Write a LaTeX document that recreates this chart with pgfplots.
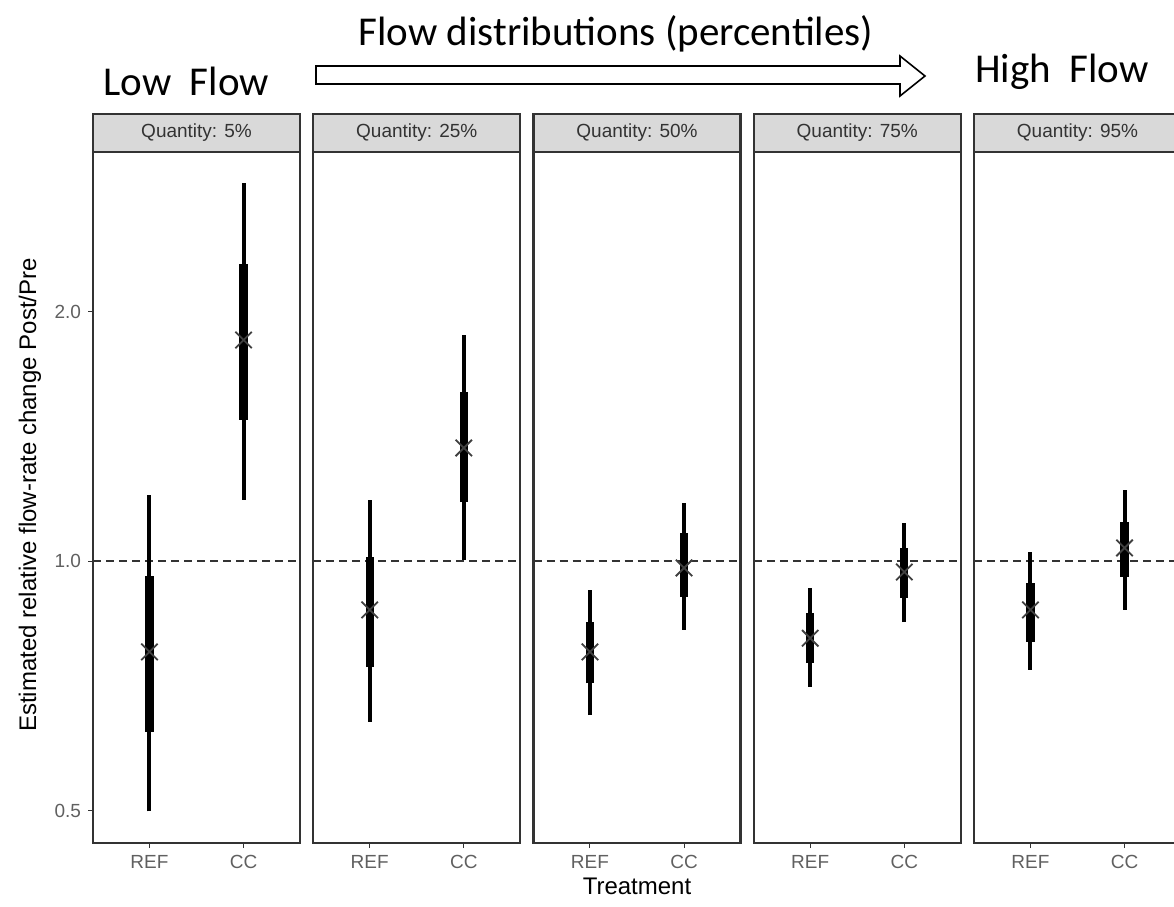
\documentclass[border=0pt]{standalone}
\usepackage{pgfplots}
\pgfplotsset{compat=1.18}
\usepackage{fontspec}
\setmainfont{Liberation Sans}
\newfontfamily\calibri{Carlito}
\definecolor{bordergray}{HTML}{333333}
\definecolor{stripgray}{HTML}{D9D9D9}
\definecolor{tickgray}{HTML}{606060}
\definecolor{markgray}{HTML}{404040}
\newcommand\interval[6]{%
  \addplot[black, line width=2pt, mark=none] coordinates {(#1,#2) (#1,#6)};
  \addplot[black, line width=4.2pt, mark=none] coordinates {(#1,#3) (#1,#5)};
  \addplot[only marks, mark=x, mark size=5.8pt, draw=markgray, mark options={line width=0.9pt}] coordinates {(#1,#4)};
}
\newcommand\refline{\addplot[bordergray, line width=1pt, dash pattern=on 4pt off 2.5pt, mark=none] coordinates {(0.4,1) (2.6,1)};}
\pgfplotsset{
  every axis/.append style={
  scale only axis, width=103.5pt, height=345.5pt, anchor=south west,
  ymin=0.4569, ymax=3.115, xmin=0.4, xmax=2.6,
  xtick={1,2}, xticklabels={REF,CC},
  tick align=outside, xtick pos=left, ytick pos=left, major tick length=2.5pt,
  axis line style={draw=bordergray, line width=1.05pt},
  major tick style={draw=bordergray, line width=0.5pt},
  tick label style={font=\fontsize{9.5}{11}\selectfont, text=tickgray},
}}
\begin{document}
\begin{tikzpicture}
\path[use as bounding box] (0,0) rectangle (587pt,453pt);
% Panel 1: 5%
\begin{axis}[ymode=log, at={(46.5pt,31.5pt)}, ytick={0.5,1,2}, yticklabels={0.5,1.0,2.0}, minor ytick={}]
\refline
\interval{1}{0.499}{0.622}{0.777}{0.959}{1.201}
\interval{2}{1.185}{1.480}{1.848}{2.282}{2.858}
\end{axis}
% Panel 2: 25%
\begin{axis}[ymode=log, at={(156.625pt,31.5pt)}, ytick=\empty, minor ytick={}]
\refline
\interval{1}{0.640}{0.745}{0.873}{1.011}{1.185}
\interval{2}{1.003}{1.178}{1.369}{1.599}{1.874}
\end{axis}
% Panel 3: 50%
\begin{axis}[ymode=log, at={(266.75pt,31.5pt)}, ytick=\empty, minor ytick={}]
\refline
\interval{1}{0.652}{0.712}{0.777}{0.844}{0.923}
\interval{2}{0.826}{0.905}{0.981}{1.081}{1.175}
\end{axis}
% Panel 4: 75%
\begin{axis}[ymode=log, at={(376.875pt,31.5pt)}, ytick=\empty, minor ytick={}]
\refline
\interval{1}{0.705}{0.753}{0.807}{0.866}{0.928}
\interval{2}{0.844}{0.902}{0.970}{1.037}{1.111}
\end{axis}
% Panel 5: 95%
\begin{axis}[ymode=log, at={(487pt,31.5pt)}, ytick=\empty, minor ytick={}]
\refline
\interval{1}{0.739}{0.799}{0.873}{0.941}{1.025}
\interval{2}{0.873}{0.957}{1.037}{1.114}{1.218}
\end{axis}
% strips
\foreach \xx/\lab in {46.5/5, 156.625/25, 266.75/50, 376.875/75, 487/95}{
  \draw[draw=bordergray, fill=stripgray, line width=1.05pt] (\xx pt,377pt) rectangle ++(103.5pt,19pt);
  \node[font=\fontsize{9.5}{11}\selectfont, text=bordergray] at (\xx pt+51.75pt,386.5pt) {Quantity: \lab\%};
}
% axis titles
\node[rotate=90, font=\fontsize{12}{14}\selectfont] at (15pt,205.5pt) {Estimated relative flow-rate change Post/Pre};
\node[anchor=base, font=\fontsize{12}{14}\selectfont] at (318.5pt,5.5pt) {Treatment};
% header
\node[anchor=base, inner sep=0pt, font=\calibri\fontsize{20.5}{24}\selectfont] at (308pt,430pt) {Flow distributions (percentiles)};
\node[anchor=base west, inner sep=0pt, font=\calibri\fontsize{20.5}{24}\selectfont] at (51.5pt,405pt) {Low\ \ Flow};
\node[anchor=base west, inner sep=0pt, font=\calibri\fontsize{20.5}{24}\selectfont] at (487.5pt,411.5pt) {High\ \ Flow};
\draw[line width=0.8pt, fill=white] (158pt,420pt) -- (450pt,420pt) -- (450pt,425pt) -- (462.5pt,415pt) -- (450pt,405pt) -- (450pt,411pt) -- (158pt,411pt) -- cycle;
\end{tikzpicture}
\end{document}
